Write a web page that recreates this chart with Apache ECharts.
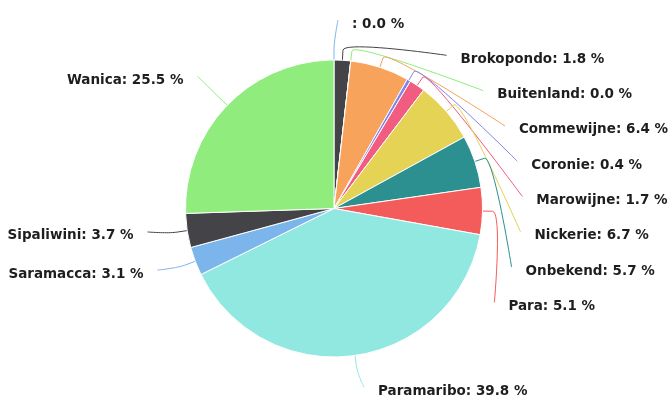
<!DOCTYPE html>
<html>
<head>
<meta charset="utf-8">
<script src="https://cdn.jsdelivr.net/npm/echarts@6/dist/echarts.min.js"></script>
<style>
  html, body { margin: 0; padding: 0; background: #fff; }
  #chart { width: 672px; height: 406px; }
</style>
</head>
<body>
<div id="chart"></div>
<script>
// ---- data ----
const names = ['', 'Brokopondo', 'Buitenland', 'Commewijne', 'Coronie', 'Marowijne', 'Nickerie', 'Onbekend', 'Para', 'Paramaribo', 'Saramacca', 'Sipaliwini', 'Wanica'];
const values = [0.0, 1.8, 0.0, 6.4, 0.4, 1.7, 6.7, 5.7, 5.1, 39.8, 3.1, 3.7, 25.5];
const colors = ['#7cb5ec', '#434348', '#90ed7d', '#f7a35c', '#8085e9', '#f15c80', '#e4d354', '#2b908f', '#f45b5b', '#91e8e1', '#7cb5ec', '#434348', '#90ed7d'];

// ---- layout constants ----
const CX = 334, CY = 208.5, R = 148.5;   // pie geometry
const RL = 184.5, PAD = 18, GAP = 35.3, OFF = 10; // label placement

const total = values.reduce((a, b) => a + b, 0);
const mids = [];
let acc = 0;
values.forEach(v => { mids.push(2 * Math.PI * (acc + v / 2) / total); acc += v; });

const pos = [];
const right = [], left = [];
mids.forEach((t, i) => (Math.sin(t) >= -1e-9 ? right : left).push(i));
right.sort((a, b) => mids[a] - mids[b]);
left.sort((a, b) => mids[b] - mids[a]);
function place(list, side) {
  let prev = -Infinity;
  list.forEach(i => {
    const ny = CY - RL * Math.cos(mids[i]);
    const y = Math.max(ny, prev + GAP);
    prev = y;
    const dy = y - CY;
    const x = CX + side * (Math.sqrt(Math.max(0, RL * RL - dy * dy)) + PAD);
    pos[i] = { x, y, side };
  });
}
place(right, 1);
place(left, -1);

function connector(i) {
  const t = mids[i], p = pos[i];
  const ux = Math.sin(t), uy = -Math.cos(t);
  const tx = CX + R * ux, ty = CY + R * uy;
  const bx = tx + OFF * ux, by = ty + OFF * uy;
  const c1x = tx + 2 * OFF * ux, c1y = ty + 2 * OFF * uy;
  const ex = p.x - p.side * 14, ey = p.y - 4;
  const pts = [[tx, ty], [bx, by]];
  const N = 20;
  for (let s = 1; s <= N; s++) {
    const u = s / N, m = 1 - u;
    const x = m * m * m * bx + 3 * m * m * u * c1x + 3 * m * u * u * ex + u * u * u * ex;
    const y = m * m * m * by + 3 * m * m * u * c1y + 3 * m * u * u * ey + u * u * u * ey;
    pts.push([x, y]);
  }
  return pts;
}

const chart = echarts.init(document.getElementById('chart'), null, { renderer: 'canvas' });
chart.setOption({
  animation: false,
  backgroundColor: '#ffffff',
  series: [{
    type: 'pie',
    center: [CX, CY],
    radius: R,
    startAngle: 90,
    clockwise: true,
    avoidLabelOverlap: false,
    data: names.map((n, i) => ({ name: n, value: values[i], itemStyle: { color: colors[i] } })),
    itemStyle: { borderColor: '#ffffff', borderWidth: 1 },
    label: {
      show: true,
      position: 'outside',
      formatter: p => p.name + ': ' + p.value.toFixed(1) + ' %',
      fontFamily: 'DejaVu Sans',
      fontWeight: 'bold',
      fontSize: 13.5,
      color: '#1e1e1e'
    },
    labelLine: { show: true, length: 10, length2: 10, lineStyle: { width: 1 } },
    emphasis: { disabled: true },
    labelLayout: params => {
      const i = params.dataIndex;
      const p = pos[i];
      return {
        x: p.x,
        y: p.y,
        align: p.side > 0 ? 'left' : 'right',
        verticalAlign: 'middle',
        labelLinePoints: connector(i)
      };
    }
  }]
});
</script>
</body>
</html>
